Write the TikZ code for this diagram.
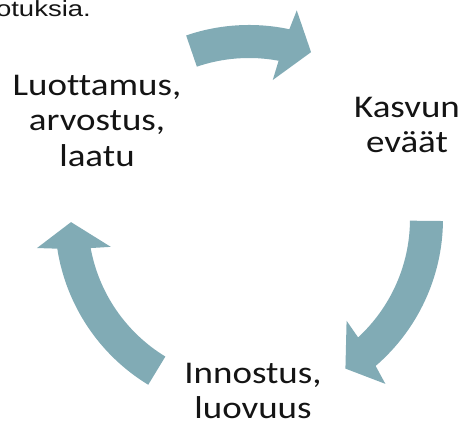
\documentclass[tikz,border=0pt]{standalone}
\usepackage{fontspec}
\setmainfont{Carlito}[Ligatures=NoCommon]
\newfontfamily\arialfont{Liberation Sans}
\usetikzlibrary{calc}
\definecolor{arrowteal}{RGB}{129,171,181}
\definecolor{labeltext}{RGB}{20,20,20}
\tikzset{
  arrowfill/.style={fill=arrowteal, draw=none},
  lbl/.style={font=\fontsize{31.6}{35.5}\selectfont, align=center, inner sep=0pt, text=labeltext, xscale=1.17},
  snipstyle/.style={inner sep=0pt, text=labeltext, font=\arialfont\fontsize{22pt}{25pt}\selectfont},
}
% #1 tail angle, #2 outer shaft end, #3 outer barb, #4 tip, #5 inner barb, #6 inner shaft end
\newcommand{\cyclearrowshape}[6]{%
  \fill[arrowfill] ($(ctr)+(#1:194pt)$) arc[start angle=#1, end angle=#2, radius=194pt]
    -- ($(ctr)+(#3:214pt)$) -- ($(ctr)+(#4:178pt)$) -- ($(ctr)+(#5:141pt)$)
    -- ($(ctr)+(#6:161pt)$) arc[start angle=#6, end angle=#1, radius=161pt] -- cycle;}
\begin{document}
\begin{tikzpicture}[x=1pt,y=1pt]
\useasboundingbox (0,0) rectangle (460,427);
\coordinate (ctr) at (249,208);
\cyclearrowshape{108.9}{78.0}{77.1}{69.6}{80.3}{79.4}
\cyclearrowshape{-0.6}{-49.25}{-50.4}{-57.2}{-46.2}{-47.35}
\cyclearrowshape{238.7}{188.8}{187.8}{181}{191.4}{190.4}
\node[lbl, anchor=north] (trust) at (97,352) {Luottamus,\\arvostus,\\laatu};
\node[lbl, anchor=north] (growth) at (407,330) {Kasvun\\eväät};
\node[lbl, anchor=north] (inspire) at (253,64) {Innostus,\\luovuus};
\node[snipstyle, anchor=base east] (snip) at (91,410) {\scalebox{1.25}[1]{otuksia.}};
\end{tikzpicture}
\end{document}
